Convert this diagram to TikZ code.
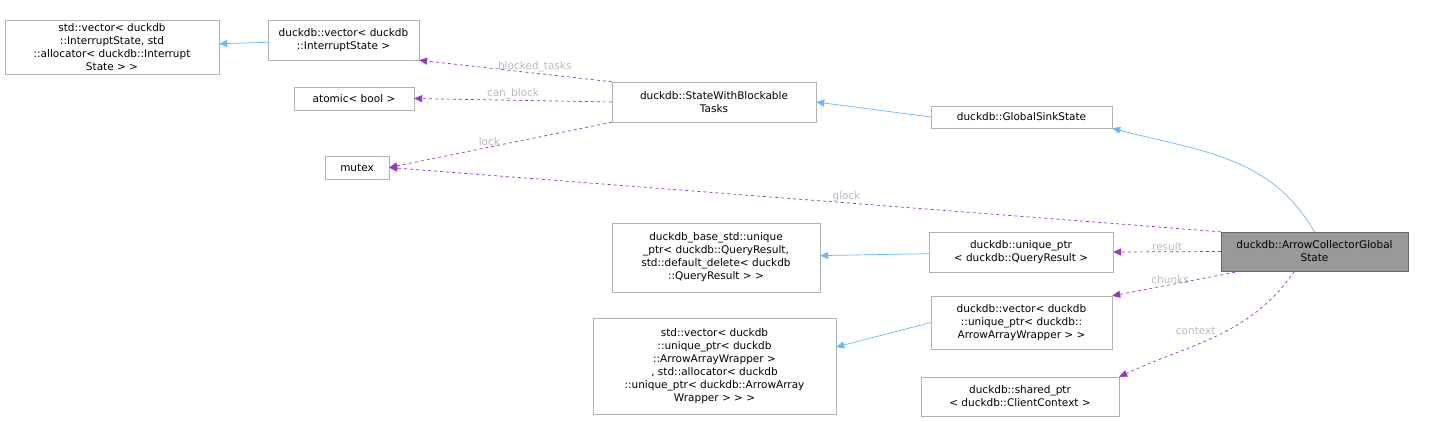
\documentclass[tikz,border=0pt]{standalone}
\usepackage{fontspec}
\setmainfont{DejaVu Sans}
\usetikzlibrary{positioning}
\usetikzlibrary{arrows.meta}
\definecolor{inhblue}{HTML}{63B8FF}
\definecolor{usepurple}{HTML}{9A32CD}
\tikzset{
        boxnode/.style={align=center,inner sep=0pt,draw=gray!60,rectangle,font=\fontsize{10.5}{13}\selectfont},
        % Classes around the main one
        node_class/.style={boxnode, fill=white},
        % The documented class
        node_main/.style={boxnode, draw=gray!80!black, fill=gray!80},
        % Inheritance
        edge_inh/.style={inhblue, line width=0.7pt, -{Triangle[length=8pt,width=7pt]}},
        % Usage
        edge_use/.style={usepurple, line width=0.7pt, dashed, -{Triangle[length=8pt,width=7pt]}},
        edge_label/.style={gray!55, font=\fontsize{10.5}{12}\selectfont, inner sep=1pt}
}
\begin{document}
\begin{tikzpicture}[x=1pt,y=-1pt]
    \useasboundingbox (0,0) rectangle (1441,421);
    \node[node_class, minimum width=214, minimum height=54] (vecIS) at (112,47)
        {std::vector< duckdb\\::InterruptState, std\\::allocator< duckdb::Interrupt\\State > >};
    \node[node_class, minimum width=151, minimum height=40] (dvecIS) at (343.5,40)
        {duckdb::vector< duckdb\\::InterruptState >};
    \node[node_class, minimum width=120, minimum height=23] (atomic) at (354,98.5) {atomic< bool >};
    \node[node_class, minimum width=64, minimum height=23] (mutex) at (357,167.5) {mutex};
    \node[node_class, minimum width=204, minimum height=40] (swbt) at (714,102)
        {duckdb::StateWithBlockable\\Tasks};
    \node[node_class, minimum width=181, minimum height=22] (gss) at (1021.5,117) {duckdb::GlobalSinkState};
    \node[node_main, minimum width=187, minimum height=39] (acgs) at (1314.5,251.5)
        {duckdb::ArrowCollectorGlobal\\State};
    \node[node_class, minimum width=208, minimum height=69] (baseup) at (716,257.5)
        {duckdb\_base\_std::unique\\\_ptr< duckdb::QueryResult,\\std::default\_delete< duckdb\\::QueryResult > >};
    \node[node_class, minimum width=184, minimum height=40] (uqr) at (1021,252)
        {duckdb::unique\_ptr\\< duckdb::QueryResult >};
    \node[node_class, minimum width=181, minimum height=53] (vecaw) at (1021.5,322.5)
        {duckdb::vector< duckdb\\::unique\_ptr< duckdb::\\ArrowArrayWrapper > >};
    \node[node_class, minimum width=243, minimum height=96] (stdvecaw) at (714.5,366)
        {std::vector< duckdb\\::unique\_ptr< duckdb\\::ArrowArrayWrapper >\\, std::allocator< duckdb\\::unique\_ptr< duckdb::ArrowArray\\Wrapper > > >};
    \node[node_class, minimum width=198, minimum height=39] (shared) at (1020,396.5)
        {duckdb::shared\_ptr\\< duckdb::ClientContext >};

    % inheritance
    \draw[edge_inh] (dvecIS) -- (vecIS);
    \draw[edge_inh] (gss.west) -- (swbt.east);
    \draw[edge_inh] (acgs.north) to[out=120,in=-15] (gss.south east);
    \draw[edge_inh] (uqr) -- (baseup);
    \draw[edge_inh] (vecaw.west) -- (stdvecaw.east |- 0,347);

    % members
    \draw[edge_use] (swbt.north west) -- node[edge_label,above,pos=0.4] {blocked\_tasks} (dvecIS.south east);
    \draw[edge_use] (swbt.west) -- node[edge_label,above] {can\_block} (atomic.east);
    \draw[edge_use] (swbt.south west) -- node[edge_label,above,pos=0.55] {lock} (mutex.east);
    \draw[edge_use] (acgs.north west) -- node[edge_label,above,pos=0.45] {glock} (mutex.east);
    \draw[edge_use] (acgs.west) -- node[edge_label,above] {result} (uqr.east);
    \draw[edge_use] (acgs.south west) ++(20,0) -- node[edge_label,above,pos=0.55] {chunks} (vecaw.north east);
    \draw[edge_use] (acgs.south) ++(-20,0) to[out=-125,in=25] node[edge_label,above left,pos=0.5] {context} (shared.north east);
\end{tikzpicture}
\end{document}
